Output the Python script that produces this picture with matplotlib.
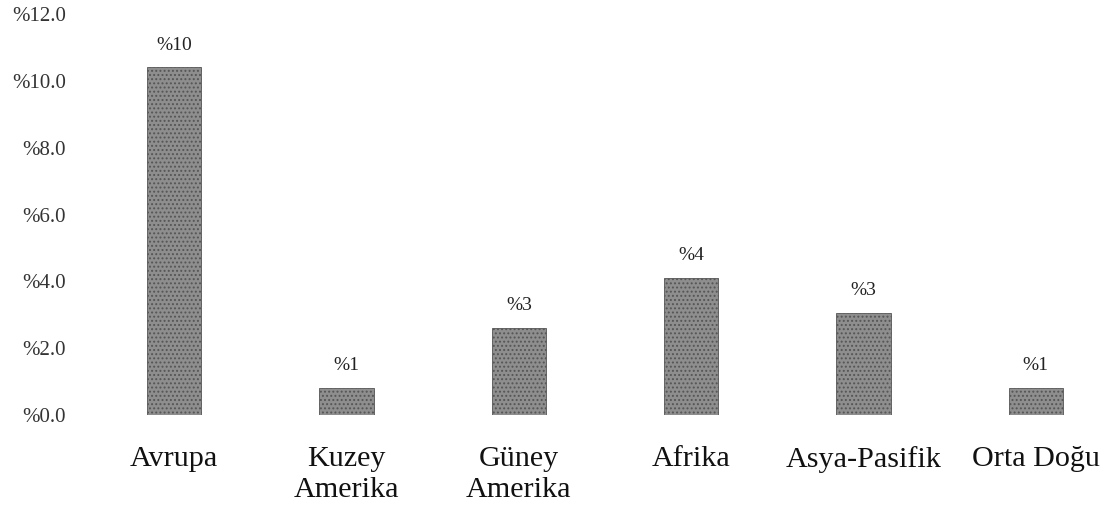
import matplotlib
matplotlib.use("Agg")
import matplotlib.pyplot as plt
from matplotlib.ticker import FuncFormatter

categories = ["Avrupa", "Kuzey\nAmerika", "Güney\nAmerika", "Afrika", "Asya-Pasifik", "Orta Doğu"]
values = [10.4, 0.8, 2.6, 4.1, 3.05, 0.8]
value_labels = ["%10", "%1", "%3", "%4", "%3", "%1"]
yticks = [0, 2, 4, 6, 8, 10, 12]

plt.rcParams['font.family'] = ['Liberation Serif', 'DejaVu Serif']
plt.rcParams['hatch.linewidth'] = 0.9
plt.rcParams['hatch.color'] = '#3c3c3c'

W, H = 1111, 508
fig = plt.figure(figsize=(W / 100, H / 100), dpi=100)
left, right = 88 / W, 1.0
bottom, top = 1 - 415 / H, 1 - 14 / H
ax = fig.add_axes([left, bottom, right - left, top - bottom])

x = list(range(len(categories)))
bars = ax.bar(x, values, width=0.315, color="#8e8e8e", edgecolor="#555555",
              linewidth=0.6, hatch="....")

for rect, lab in zip(bars, value_labels):
    ax.annotate(lab, (rect.get_x() + rect.get_width() / 2, rect.get_height()),
                xytext=(0, 10), textcoords="offset points", ha="center", va="bottom",
                fontsize=14, color="#222222")

ax.set_xlim(-0.5, 5.5 - 11 / 172.4)
ax.set_ylim(0, 12)
ax.set_yticks(yticks)
ax.yaxis.set_major_formatter(FuncFormatter(lambda v, p: "%" + f"{v:.1f}"))
ax.set_xticks(x)
ax.set_xticklabels(categories, fontsize=21.7, linespacing=1.28)
ax.tick_params(axis="y", length=0, pad=16, labelsize=15, labelcolor="#333333")
ax.tick_params(axis="x", length=0, pad=22, labelcolor="#111111")
for s in ax.spines.values():
    s.set_visible(False)

fig.savefig("out.png", dpi=100)
